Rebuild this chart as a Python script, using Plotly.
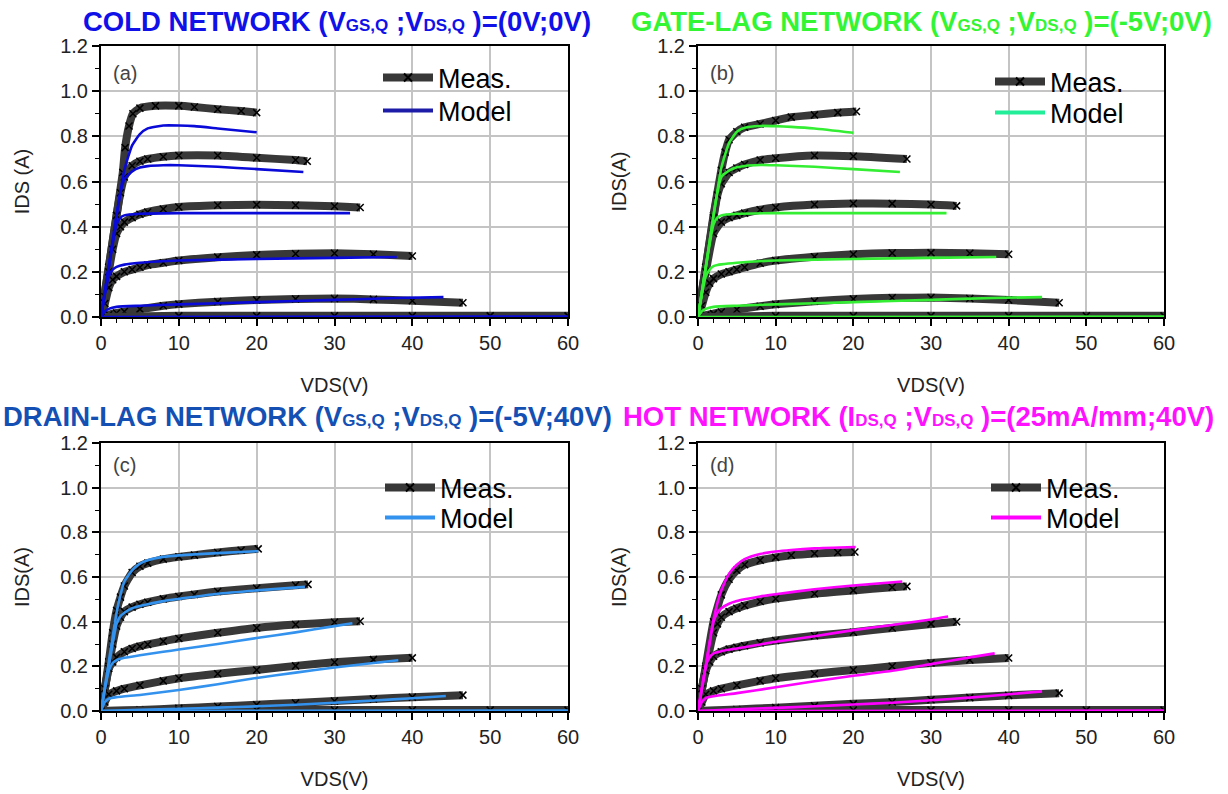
import plotly.graph_objects as go

# ---------------- data (Vds in V, Ids in A) ----------------
a_meas_v = [[0, 1, 2, 2.8, 3.1, 3.6, 4.1, 5, 7, 10, 12, 15, 18, 20],
            [0, 1, 2, 2.5, 3, 4, 5, 6, 8, 10, 15, 20, 25, 26.5],
            [0, 0.5, 1, 1.5, 2, 2.5, 3, 4, 5, 6, 8, 10, 15, 20, 25, 30, 33.3],
            [0, 0.5, 1, 1.5, 2, 3, 4, 5, 6, 8, 10, 15, 20, 25, 30, 35, 40],
            [0, 1, 2, 3, 5, 8, 10, 15, 20, 25, 30, 35, 40, 46.5],
            [0, 10, 20, 30, 40, 50, 60]]
a_meas_i = [[0, 0.22, 0.45, 0.64, 0.75, 0.846, 0.90, 0.925, 0.935, 0.935, 0.93, 0.92, 0.912, 0.905],
            [0, 0.22, 0.45, 0.55, 0.62, 0.67, 0.69, 0.70, 0.71, 0.715, 0.715, 0.705, 0.695, 0.69],
            [0, 0.09, 0.2, 0.3, 0.37, 0.40, 0.42, 0.44, 0.455, 0.465, 0.478, 0.487, 0.495, 0.497, 0.495, 0.49, 0.485],
            [0, 0.06, 0.13, 0.165, 0.18, 0.2, 0.21, 0.22, 0.23, 0.24, 0.25, 0.265, 0.275, 0.28, 0.282, 0.278, 0.27],
            [0, 0.01, 0.018, 0.024, 0.035, 0.05, 0.057, 0.068, 0.075, 0.08, 0.082, 0.078, 0.072, 0.063],
            [0, 0.005, 0.005, 0.005, 0.005, 0.005, 0.005]]
a_mod_v = [[0, 1, 2, 3, 4, 5, 6, 8, 10, 12, 15, 20],
           [0, 1, 2, 2.5, 3, 4, 5, 6, 8, 10, 15, 20, 26],
           [0, 1, 2, 2.5, 3, 5, 10, 20, 32],
           [0, 0.5, 1, 1.5, 2, 3, 5, 10, 20, 30, 38],
           [0, 0.5, 1, 2, 5, 10, 20, 30, 38, 44],
           [0, 60]]
a_mod_i = [[0, 0.22, 0.45, 0.65, 0.76, 0.81, 0.835, 0.848, 0.848, 0.845, 0.835, 0.818],
           [0, 0.22, 0.45, 0.55, 0.61, 0.645, 0.662, 0.668, 0.672, 0.672, 0.665, 0.655, 0.642],
           [0, 0.22, 0.41, 0.44, 0.45, 0.457, 0.46, 0.46, 0.46],
           [0, 0.1, 0.18, 0.21, 0.222, 0.232, 0.24, 0.25, 0.257, 0.262, 0.266],
           [0, 0.025, 0.036, 0.045, 0.05, 0.056, 0.066, 0.076, 0.084, 0.088],
           [0, 0.002]]

b_meas_v = [[0, 1, 2, 3, 3.5, 4, 5, 6, 8, 10, 12, 15, 18, 20.4],
            [0, 1, 2, 2.5, 3, 4, 5, 6, 8, 10, 15, 20, 26.9],
            [0, 1, 2, 3, 4, 5, 6, 8, 10, 15, 20, 25, 30, 33.3],
            [0, 0.5, 1, 1.5, 2, 3, 4, 5, 6, 8, 10, 15, 20, 25, 30, 35, 40],
            [0, 1, 2, 3, 5, 8, 10, 15, 20, 25, 30, 35, 40, 46.5],
            [0, 10, 20, 30, 40, 50, 60]]
b_meas_i = [[0, 0.22, 0.45, 0.65, 0.73, 0.785, 0.82, 0.84, 0.855, 0.87, 0.885, 0.895, 0.905, 0.91],
            [0, 0.22, 0.44, 0.54, 0.59, 0.64, 0.66, 0.675, 0.695, 0.703, 0.715, 0.712, 0.70],
            [0, 0.2, 0.37, 0.42, 0.44, 0.45, 0.46, 0.475, 0.485, 0.498, 0.503, 0.502, 0.498, 0.492],
            [0, 0.05, 0.11, 0.15, 0.17, 0.19, 0.2, 0.21, 0.22, 0.238, 0.25, 0.267, 0.278, 0.283, 0.284, 0.282, 0.278],
            [0, 0.008, 0.015, 0.022, 0.033, 0.048, 0.056, 0.07, 0.08, 0.085, 0.086, 0.082, 0.075, 0.063],
            [0, 0.005, 0.005, 0.005, 0.005, 0.005, 0.005]]
b_mod_v = [[0, 1, 2, 3, 4, 5, 6, 8, 10, 12, 15, 20],
           [0, 1, 2, 2.5, 3, 4, 5, 6, 8, 10, 15, 20, 26],
           [0, 1, 2, 2.5, 3, 5, 10, 20, 32],
           [0, 0.5, 1, 1.5, 2, 2.5, 3, 5, 10, 20, 30, 38.4],
           [0, 0.5, 1, 2, 5, 10, 20, 30, 38, 44.3],
           [0, 60]]
b_mod_i = [[0, 0.22, 0.45, 0.66, 0.77, 0.82, 0.838, 0.846, 0.845, 0.842, 0.835, 0.816],
           [0, 0.22, 0.45, 0.55, 0.62, 0.648, 0.663, 0.669, 0.673, 0.672, 0.665, 0.655, 0.642],
           [0, 0.22, 0.41, 0.44, 0.45, 0.457, 0.46, 0.46, 0.46],
           [0, 0.1, 0.18, 0.21, 0.225, 0.23, 0.233, 0.24, 0.25, 0.257, 0.262, 0.266],
           [0, 0.025, 0.036, 0.045, 0.05, 0.056, 0.066, 0.076, 0.084, 0.088],
           [0, 0.002]]

c_meas_v = [[0, 0.5, 1, 1.5, 2, 2.5, 3, 4, 5, 6, 8, 10, 12, 15, 18, 20.2],
            [0, 1, 1.5, 2, 2.5, 3, 4, 5, 6, 8, 10, 12, 15, 20, 25, 26.6],
            [0, 0.5, 1, 1.5, 2, 3, 4, 5, 6, 8, 10, 15, 20, 25, 30, 33.3],
            [0, 0.5, 1, 2, 3, 5, 8, 10, 15, 20, 25, 30, 35, 40],
            [0, 5, 10, 15, 20, 25, 30, 35, 40, 46.5],
            [0, 10, 20, 30, 40, 50, 60]]
c_meas_i = [[0, 0.1, 0.22, 0.35, 0.45, 0.51, 0.56, 0.62, 0.648, 0.662, 0.68, 0.69, 0.698, 0.71, 0.72, 0.726],
            [0, 0.2, 0.3, 0.38, 0.42, 0.445, 0.465, 0.478, 0.487, 0.502, 0.513, 0.522, 0.535, 0.55, 0.563, 0.567],
            [0, 0.1, 0.19, 0.22, 0.24, 0.265, 0.28, 0.29, 0.298, 0.312, 0.325, 0.35, 0.372, 0.387, 0.397, 0.402],
            [0, 0.04, 0.075, 0.09, 0.1, 0.115, 0.135, 0.147, 0.167, 0.184, 0.202, 0.218, 0.23, 0.238],
            [0, 0.005, 0.012, 0.02, 0.028, 0.036, 0.045, 0.054, 0.062, 0.071],
            [0, 0.004, 0.004, 0.004, 0.004, 0.004, 0.004]]
c_mod_v = [[0, 1, 2, 2.5, 3, 4, 5, 6, 8, 10, 15, 20.2],
           [0, 1, 2, 2.5, 3, 4, 5, 6, 8, 10, 15, 20, 26.2],
           [0, 0.5, 1, 1.5, 2, 3, 5, 8, 10, 15, 20, 25, 30, 32.3],
           [0, 0.5, 1, 2, 5, 8, 10, 15, 20, 25, 30, 35, 38.2],
           [0, 5, 10, 15, 20, 25, 30, 35, 40, 44.3],
           [0, 60]]
c_mod_i = [[0, 0.22, 0.44, 0.52, 0.58, 0.63, 0.66, 0.675, 0.69, 0.697, 0.707, 0.716],
           [0, 0.2, 0.39, 0.425, 0.44, 0.46, 0.47, 0.478, 0.492, 0.502, 0.525, 0.54, 0.556],
           [0, 0.1, 0.18, 0.215, 0.228, 0.238, 0.25, 0.265, 0.275, 0.3, 0.327, 0.352, 0.38, 0.393],
           [0, 0.04, 0.055, 0.062, 0.072, 0.085, 0.094, 0.12, 0.148, 0.172, 0.195, 0.215, 0.227],
           [0, 0.005, 0.01, 0.015, 0.021, 0.028, 0.037, 0.047, 0.057, 0.067],
           [0, 0.002]]

d_meas_v = [[0, 1, 2, 3, 4, 5, 6, 8, 10, 12, 15, 18, 20.2],
            [0, 1, 2, 2.5, 3, 4, 5, 6, 8, 10, 15, 20, 25, 26.9],
            [0, 0.5, 1, 1.5, 2, 3, 4, 5, 6, 8, 10, 15, 20, 25, 30, 33.3],
            [0, 0.5, 1, 2, 3, 5, 8, 10, 15, 20, 25, 30, 35, 40],
            [0, 5, 10, 15, 20, 25, 30, 35, 40, 46.5],
            [0, 10, 20, 30, 40, 50, 60]]
d_meas_i = [[0, 0.2, 0.4, 0.52, 0.59, 0.63, 0.655, 0.675, 0.688, 0.697, 0.705, 0.71, 0.712],
            [0, 0.19, 0.35, 0.39, 0.42, 0.445, 0.46, 0.472, 0.49, 0.503, 0.525, 0.54, 0.554, 0.558],
            [0, 0.1, 0.18, 0.22, 0.245, 0.265, 0.277, 0.285, 0.292, 0.305, 0.316, 0.337, 0.353, 0.372, 0.39, 0.4],
            [0, 0.04, 0.075, 0.09, 0.1, 0.115, 0.135, 0.147, 0.167, 0.184, 0.2, 0.215, 0.228, 0.237],
            [0, 0.007, 0.015, 0.023, 0.032, 0.04, 0.05, 0.06, 0.07, 0.08],
            [0, 0.004, 0.004, 0.004, 0.004, 0.004, 0.004]]
d_mod_v = [[0, 1, 2, 3, 4, 5, 6, 8, 10, 12, 15, 20.3],
           [0, 1, 2, 2.5, 3, 4, 5, 6, 8, 10, 15, 20, 26.3],
           [0, 1, 1.5, 2, 3, 5, 8, 10, 15, 20, 25, 30, 32.2],
           [0, 0.5, 1, 2, 5, 10, 15, 20, 25, 30, 35, 38.2],
           [0, 5, 10, 15, 20, 25, 30, 35, 40, 44.3],
           [0, 60]]
d_mod_i = [[0, 0.2, 0.41, 0.54, 0.615, 0.655, 0.68, 0.703, 0.714, 0.721, 0.728, 0.734],
           [0, 0.2, 0.4, 0.44, 0.46, 0.48, 0.492, 0.5, 0.513, 0.523, 0.545, 0.562, 0.58],
           [0, 0.2, 0.24, 0.258, 0.268, 0.28, 0.298, 0.31, 0.335, 0.362, 0.385, 0.41, 0.423],
           [0, 0.04, 0.058, 0.066, 0.08, 0.106, 0.133, 0.158, 0.18, 0.21, 0.24, 0.258],
           [0, 0.008, 0.014, 0.021, 0.029, 0.037, 0.048, 0.06, 0.075, 0.088],
           [0, 0.002]]

panel_labels = ["(a)", "(b)", "(c)", "(d)"]
SUB = "<span style='font-size:17px'>{}</span>"
titles = [
    "COLD NETWORK (V" + SUB.format("GS,Q") + " ;V" + SUB.format("DS,Q") + " )=(0V;0V)",
    "GATE-LAG NETWORK (V" + SUB.format("GS,Q") + " ;V" + SUB.format("DS,Q") + " )=(-5V;0V)",
    "DRAIN-LAG NETWORK (V" + SUB.format("GS,Q") + " ;V" + SUB.format("DS,Q") + " )=(-5V;40V)",
    "HOT NETWORK (I" + SUB.format("DS,Q") + " ;V" + SUB.format("DS,Q") + " )=(25mA/mm;40V)",
]
title_colors = ["#1010e8", "#33f533", "#1450b4", "#ff10ff"]
model_colors = ["#0a0ad8", "#33ee33", "#3392ee", "#ff00ff"]
legend_model_colors = ["#1c1ca8", "#22ee99", "#3392ee", "#ff00ff"]
y_titles = ["IDS (A)", "IDS(A)", "IDS(A)", "IDS(A)"]
x_title = "VDS(V)"
legend_names = ["Meas.", "Model"]

# ---------------- layout geometry (pixels in a 1228x794 canvas) ----------------
W, H = 1228, 794
xdoms = [(101, 568), (698, 1164), (101, 568), (698, 1164)]
ydoms = [(46, 317), (46, 317), (443, 711), (443, 711)]
legend_px = [[(378, 78), (378, 111)], [(990, 82), (990, 113)],
             [(380, 488), (380, 518)], [(986, 488), (986, 518)]]
title_px = [(82, 21), (630, 21), (2, 416), (622, 416)]

FONT = "Liberation Sans, Arial, sans-serif"

fig = go.Figure()
panels = [(a_meas_v, a_meas_i, a_mod_v, a_mod_i),
          (b_meas_v, b_meas_i, b_mod_v, b_mod_i),
          (c_meas_v, c_meas_i, c_mod_v, c_mod_i),
          (d_meas_v, d_meas_i, d_mod_v, d_mod_i)]

layout_updates = {}
for k, (mv, mi, dv, di) in enumerate(panels):
    xa = "x" if k == 0 else f"x{k+1}"
    ya = "y" if k == 0 else f"y{k+1}"
    lg_meas = "legend" if k == 0 else f"legend{2*k+1}"
    lg_mod = f"legend{2*k+2}"
    for v, i in zip(mv, mi):
        fig.add_trace(go.Scatter(x=v, y=i, xaxis=xa, yaxis=ya, mode="lines+markers",
                                 line=dict(color="#383838", width=8, shape="spline", smoothing=0.5),
                                 marker=dict(symbol="x-thin", size=7, line=dict(width=1.5, color="black")),
                                 showlegend=False, hoverinfo="skip"))
    for v, i in zip(dv, di):
        fig.add_trace(go.Scatter(x=v, y=i, xaxis=xa, yaxis=ya, mode="lines",
                                 line=dict(color=model_colors[k], width=2.6, shape="spline", smoothing=0.5),
                                 showlegend=False, hoverinfo="skip"))
    # legend-only entries
    fig.add_trace(go.Scatter(x=[None], y=[None], xaxis=xa, yaxis=ya, mode="lines+markers",
                             name=legend_names[0], legend=lg_meas,
                             line=dict(color="#383838", width=8),
                             marker=dict(symbol="x-thin", size=8, line=dict(width=2, color="black"))))
    fig.add_trace(go.Scatter(x=[None], y=[None], xaxis=xa, yaxis=ya, mode="lines",
                             name=legend_names[1], legend=lg_mod,
                             line=dict(color=legend_model_colors[k], width=4)))

    xd = [xdoms[k][0] / W, xdoms[k][1] / W]
    yd = [1 - ydoms[k][1] / H, 1 - ydoms[k][0] / H]
    xkey = "xaxis" if k == 0 else f"xaxis{k+1}"
    ykey = "yaxis" if k == 0 else f"yaxis{k+1}"
    layout_updates[xkey] = dict(
        domain=xd, anchor=ya, range=[0, 60], tick0=0, dtick=10, automargin=False,
        showgrid=True, gridcolor="#c4c4c4", gridwidth=1.6, zeroline=False,
        showline=True, linecolor="black", linewidth=2, mirror=True,
        ticks="outside", ticklen=7, tickwidth=1.5, tickcolor="black",
        minor=dict(dtick=2, ticks="outside", ticklen=4, tickwidth=1.2, tickcolor="black", showgrid=False),
        tickfont=dict(family=FONT, size=20, color="#222"),
        title=dict(text=x_title, font=dict(family=FONT, size=20, color="#222"), standoff=25))
    layout_updates[ykey] = dict(
        domain=yd, anchor=xa, range=[0, 1.2], tick0=0, dtick=0.2, tickformat=".1f", automargin=False,
        showgrid=True, gridcolor="#c4c4c4", gridwidth=1.6, zeroline=False,
        showline=True, linecolor="black", linewidth=2, mirror=True,
        ticks="outside", ticklen=7, tickwidth=1.5, tickcolor="black",
        minor=dict(dtick=0.1, ticks="outside", ticklen=4, tickwidth=1.2, tickcolor="black", showgrid=False),
        tickfont=dict(family=FONT, size=20, color="#222"),
        title=dict(text=y_titles[k], font=dict(family=FONT, size=20, color="#222"), standoff=25))
    for name, (px, py) in zip([lg_meas, lg_mod], legend_px[k]):
        layout_updates[name] = dict(
            x=px / W, y=1 - py / H, xanchor="left", yanchor="middle", bgcolor="rgba(0,0,0,0)",
            borderwidth=0, font=dict(family=FONT, size=27, color="black"), itemwidth=50)
    # panel label
    fig.add_annotation(x=(xdoms[k][0] + 10) / W, y=1 - (ydoms[k][0] + 27 - (5 if k >= 2 else 0)) / H,
                       xref="paper", yref="paper", xanchor="left", yanchor="middle",
                       text=panel_labels[k], showarrow=False,
                       font=dict(family=FONT, size=20, color="#444"))

for k in range(4):
    fig.add_annotation(x=title_px[k][0] / W, y=1 - title_px[k][1] / H, xref="paper", yref="paper",
                       xanchor="left", yanchor="middle", showarrow=False,
                       text="<b>" + titles[k] + "</b>",
                       bgcolor="white" if k == 3 else None, borderpad=0,
                       font=dict(family=FONT, size=27.5, color=title_colors[k]))

fig.update_layout(**layout_updates)
fig.update_layout(width=W, height=H, margin=dict(l=0, r=0, t=0, b=0, autoexpand=False),
                  paper_bgcolor="white", plot_bgcolor="white", showlegend=True)

fig.write_html("out.html", config={"displayModeBar": False},
               post_script="document.body.style.margin='0px';")
